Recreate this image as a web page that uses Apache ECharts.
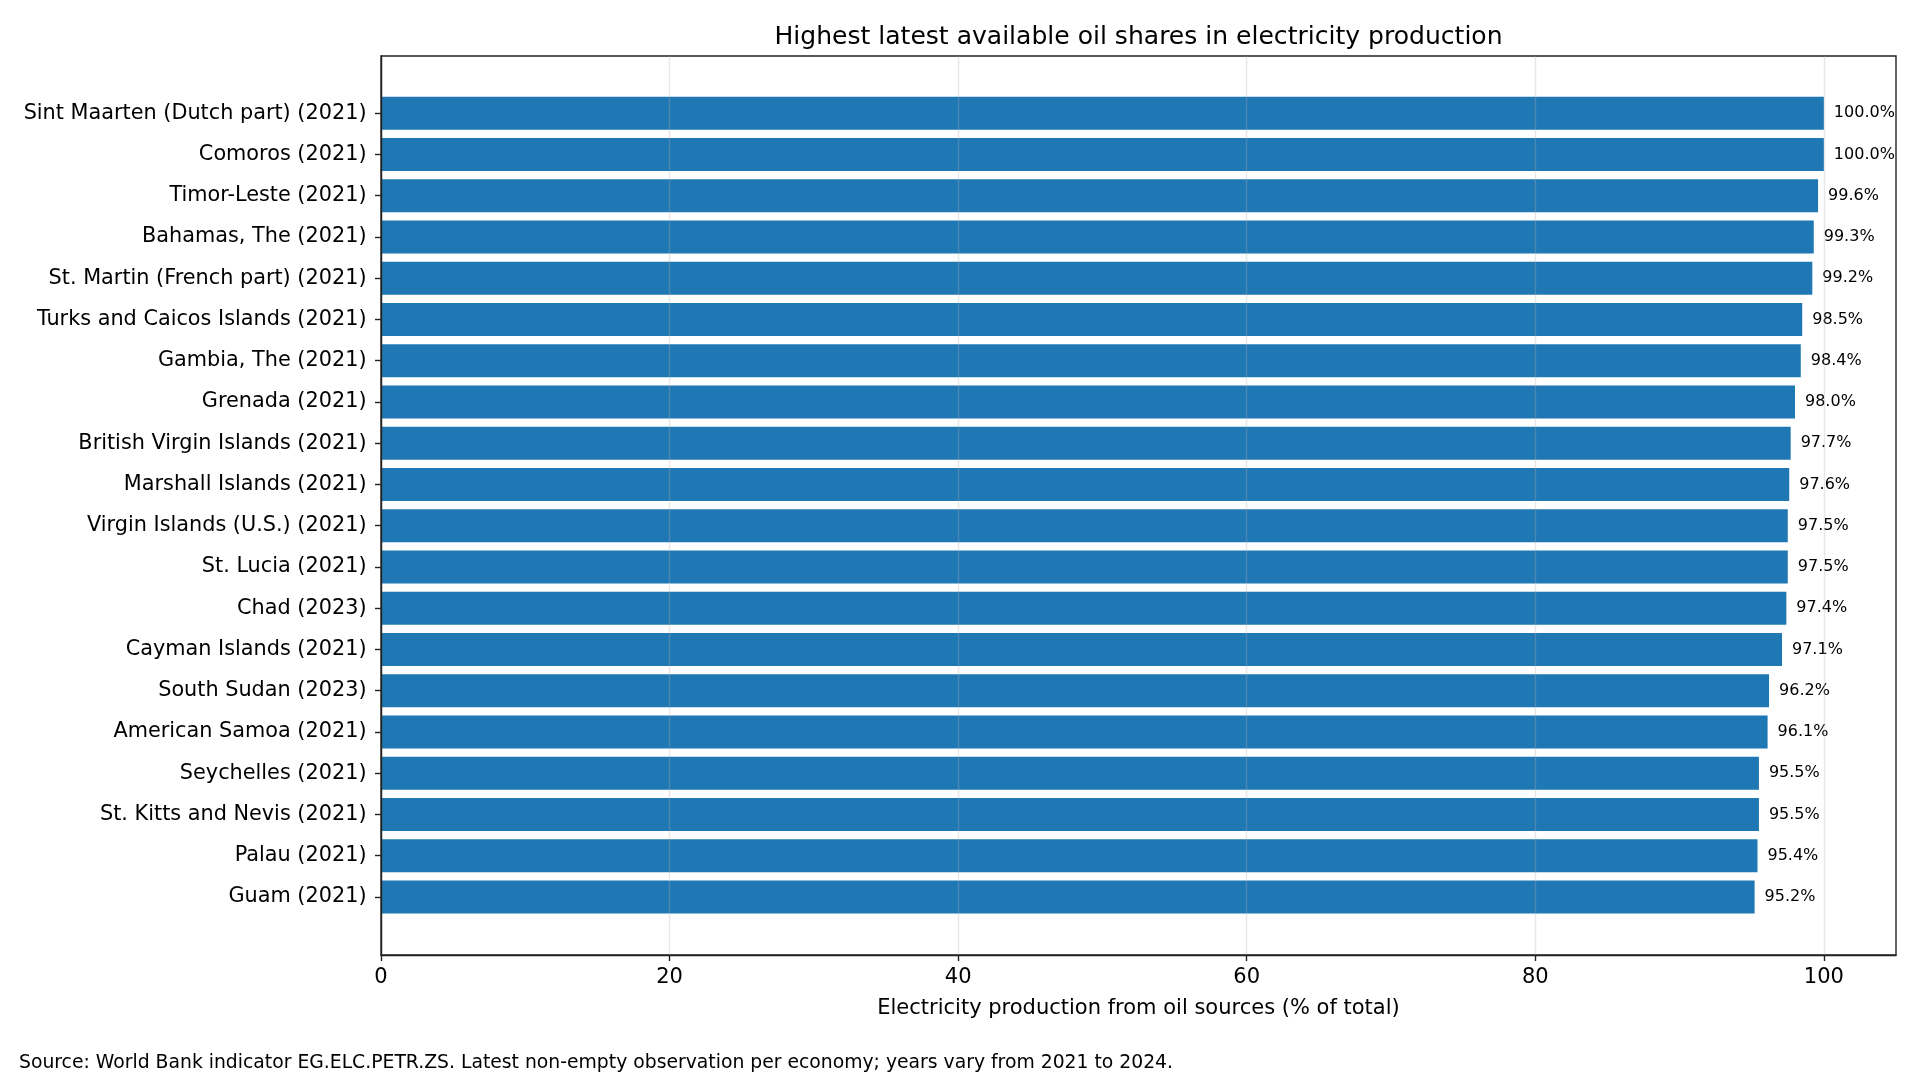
<!DOCTYPE html>
<html>
<head>
<meta charset="utf-8">
<script src="https://cdn.jsdelivr.net/npm/echarts@6/dist/echarts.min.js"></script>
<style>
html,body{margin:0;padding:0;background:#fff;}
#chart{width:1920px;height:1080px;}
</style>
</head>
<body>
<div id="chart"></div>
<script>
const categories = [
  "Sint Maarten (Dutch part) (2021)",
  "Comoros (2021)",
  "Timor-Leste (2021)",
  "Bahamas, The (2021)",
  "St. Martin (French part) (2021)",
  "Turks and Caicos Islands (2021)",
  "Gambia, The (2021)",
  "Grenada (2021)",
  "British Virgin Islands (2021)",
  "Marshall Islands (2021)",
  "Virgin Islands (U.S.) (2021)",
  "St. Lucia (2021)",
  "Chad (2023)",
  "Cayman Islands (2021)",
  "South Sudan (2023)",
  "American Samoa (2021)",
  "Seychelles (2021)",
  "St. Kitts and Nevis (2021)",
  "Palau (2021)",
  "Guam (2021)"
];
const values = [100.0, 100.0, 99.6, 99.3, 99.2, 98.5, 98.4, 98.0, 97.7, 97.6, 97.5, 97.5, 97.4, 97.1, 96.2, 96.1, 95.5, 95.5, 95.4, 95.2];
const xTicks = [0, 20, 40, 60, 80, 100];

const FONT = "DejaVu Sans";
const INK = "#000";
const SPINE = "#222";

const chart = echarts.init(document.getElementById('chart'), null, {renderer: 'canvas'});
const option = {
  backgroundColor: '#fff',
  animation: false,
  textStyle: {fontFamily: FONT},
  title: {
    text: 'Highest latest available oil shares in electricity production',
    left: 1133.5, top: 20, textAlign: 'center',
    textStyle: {fontFamily: FONT, fontSize: 25.05, fontWeight: 'normal', color: INK}
  },
  grid: [
    {left: 381, right: 24, top: 56, bottom: 125, show: true, borderColor: SPINE, borderWidth: 1.4, backgroundColor: 'transparent', containLabel: false},
    {left: 381, right: 24, top: 92.6, bottom: 162.4, containLabel: false}
  ],
  xAxis: [
    {
      gridIndex: 0, type: 'value', min: 0, max: 105, interval: 20, z: 10,
      axisLine: {show: true, onZero: false, lineStyle: {color: SPINE, width: 1.4}},
      axisTick: {show: true, length: 6, customValues: xTicks, lineStyle: {color: SPINE, width: 1.4}},
      axisLabel: {show: true, customValues: xTicks, margin: 12, fontFamily: FONT, fontSize: 21, color: INK},
      splitLine: {show: true, lineStyle: {color: 'rgba(176,176,176,0.3)', width: 1.4}},
      name: 'Electricity production from oil sources (% of total)',
      nameLocation: 'middle', nameGap: 43,
      nameTextStyle: {fontFamily: FONT, fontSize: 21, color: INK}
    },
    {
      gridIndex: 1, type: 'value', min: 0, max: 105, show: false
    }
  ],
  yAxis: [
    {
      gridIndex: 0, type: 'value', min: 0, max: 1, z: 10,
      axisLine: {show: true, lineStyle: {color: SPINE, width: 1.4}},
      axisTick: {show: false}, axisLabel: {show: false}, splitLine: {show: false}
    },
    {
      gridIndex: 1, type: 'category', data: categories, inverse: true,
      axisLine: {show: false},
      axisTick: {show: true, alignWithLabel: true, length: 6, lineStyle: {color: SPINE, width: 1.4}},
      axisLabel: {margin: 14.5, fontFamily: FONT, fontSize: 20.8, color: INK, padding: [3, 0, 0, 0]},
      splitLine: {show: false}
    }
  ],
  series: [{
    type: 'bar',
    xAxisIndex: 1, yAxisIndex: 1,
    data: values,
    barWidth: '80%',
    itemStyle: {color: '#1f77b4'},
    label: {
      show: true, position: 'right', distance: 10,
      fontFamily: FONT, fontSize: 16, color: INK, padding: [2, 0, 0, 0],
      formatter: p => p.value.toFixed(1) + '%'
    }
  }],
  graphic: [{
    type: 'text', left: 19, top: 1054,
    style: {
      text: 'Source: World Bank indicator EG.ELC.PETR.ZS. Latest non-empty observation per economy; years vary from 2021 to 2024.',
      fontFamily: FONT, fontSize: 18.8, fill: INK
    }
  }]
};
chart.setOption(option);
</script>
</body>
</html>
